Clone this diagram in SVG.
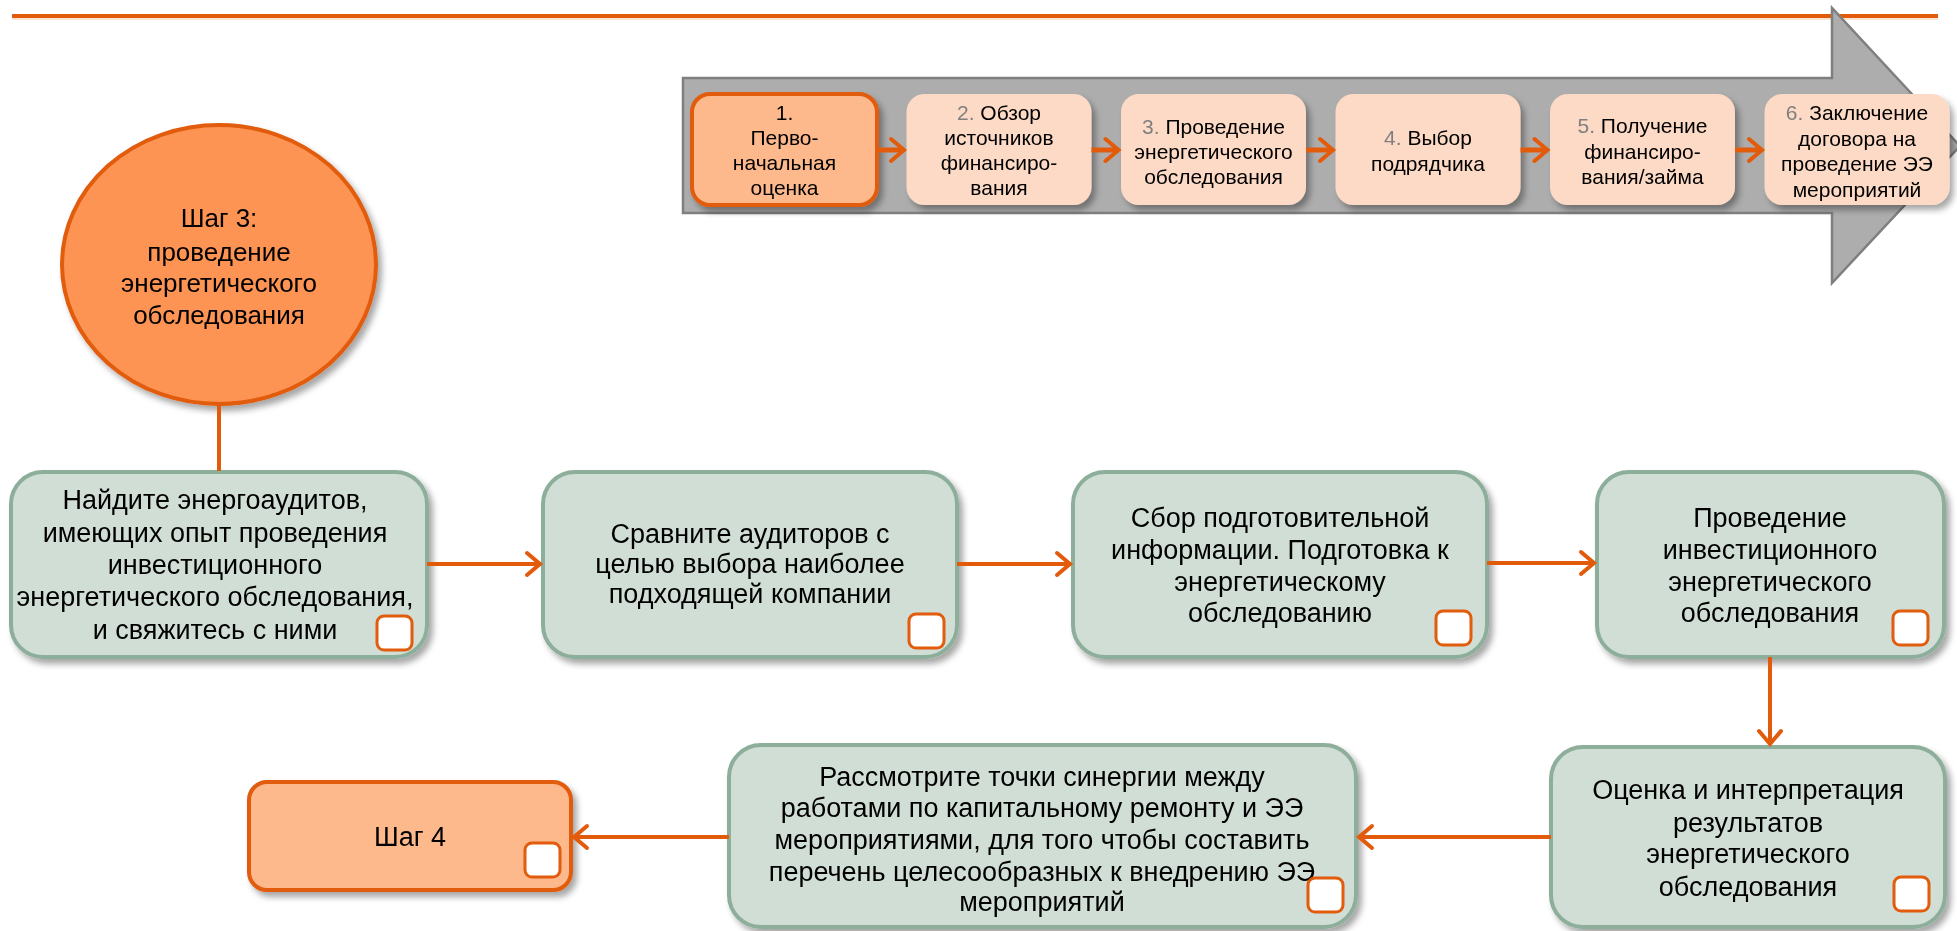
<svg xmlns="http://www.w3.org/2000/svg" width="1957" height="931" viewBox="0 0 1957 931">
  <defs>
    <style>
      text { font-family: "Liberation Sans", Arial, sans-serif; fill: #000; text-anchor: middle; }
      .t-top { font-size: 21px; }
      .t-box { font-size: 27px; }
      .t-circ { font-size: 26px; }
      .num { fill: #7F7F7F; }
      .step { fill: #FDDAC5; }
      .step-cur { fill: #FDB88C; stroke: #E25B0B; stroke-width: 4; }
      .task { fill: #D1DED6; stroke: #8CAE9A; stroke-width: 4; }
      .next { fill: #FDB88C; stroke: #E25B0B; stroke-width: 4; }
      .check { fill: #FFFFFF; stroke: #E25B0B; stroke-width: 3; }
      .conn { fill: none; stroke: #E25B0B; stroke-width: 4; }
      .conn-top { fill: none; stroke: #E25B0B; stroke-width: 5; }
    </style>
    <filter id="shadow" x="-10%" y="-10%" width="125%" height="130%">
      <feDropShadow dx="4" dy="5" stdDeviation="3" flood-color="#000" flood-opacity="0.35"/>
    </filter>
    <marker id="chev" markerUnits="userSpaceOnUse" viewBox="-3 -3 20 28" refX="13" refY="11" markerWidth="20" markerHeight="28" orient="auto">
      <path d="M0,0 L13,11 L0,22" fill="none" stroke="#E25B0B" stroke-width="4" stroke-linecap="round" stroke-linejoin="miter"/>
    </marker>
  </defs>

  <!-- header rule -->
  <line x1="12" y1="19" x2="1938" y2="19" stroke="#FCE3D3" stroke-width="2"/>
  <line x1="12" y1="16" x2="1938" y2="16" stroke="#E25B0B" stroke-width="4"/>

  <!-- process band -->
  <g id="process-band">
    <polygon points="683,78 1832,78 1832,8 1960,146 1832,283 1832,213 683,213" fill="#ADADAD" stroke="#7F7F7F" stroke-width="2.5"/>
  </g>

  <g id="step-1" filter="url(#shadow)">
    <rect class="step-cur" x="692" y="94" width="185" height="111" rx="18"/>
    <text class="t-top" x="784.5"><tspan x="784.5" y="120">1.</tspan><tspan x="784.5" y="145">Перво-</tspan><tspan x="784.5" y="170">начальная</tspan><tspan x="784.5" y="195">оценка</tspan></text>
  </g>
  <g id="step-2" filter="url(#shadow)">
    <rect class="step" x="906.5" y="94" width="185" height="111" rx="18"/>
    <text class="t-top"><tspan x="999" y="120"><tspan class="num">2.</tspan> Обзор</tspan><tspan x="999" y="145">источников</tspan><tspan x="999" y="170">финансиро-</tspan><tspan x="999" y="195">вания</tspan></text>
  </g>
  <g id="step-3" filter="url(#shadow)">
    <rect class="step" x="1121" y="94" width="185" height="111" rx="18"/>
    <text class="t-top"><tspan x="1213.5" y="134"><tspan class="num">3.</tspan> Проведение</tspan><tspan x="1213.5" y="159">энергетического</tspan><tspan x="1213.5" y="184">обследования</tspan></text>
  </g>
  <g id="step-4" filter="url(#shadow)">
    <rect class="step" x="1335.5" y="94" width="185" height="111" rx="18"/>
    <text class="t-top"><tspan x="1428" y="145"><tspan class="num">4.</tspan> Выбор</tspan><tspan x="1428" y="171">подрядчика</tspan></text>
  </g>
  <g id="step-5" filter="url(#shadow)">
    <rect class="step" x="1550" y="94" width="185" height="111" rx="18"/>
    <text class="t-top"><tspan x="1642.5" y="133"><tspan class="num">5.</tspan> Получение</tspan><tspan x="1642.5" y="159">финансиро-</tspan><tspan x="1642.5" y="184">вания/займа</tspan></text>
  </g>
  <g id="step-6" filter="url(#shadow)">
    <rect class="step" x="1764.5" y="94" width="185" height="111" rx="18"/>
    <text class="t-top"><tspan x="1857" y="120"><tspan class="num">6.</tspan> Заключение</tspan><tspan x="1857" y="146">договора на</tspan><tspan x="1857" y="171">проведение ЭЭ</tspan><tspan x="1857" y="197">мероприятий</tspan></text>
  </g>

  <!-- step 3 hub -->
  <g id="stage" filter="url(#shadow)">
    <ellipse cx="219" cy="264.5" rx="157" ry="139.5" fill="#FD9452" stroke="#E25B0B" stroke-width="4"/>
    <text class="t-circ"><tspan x="219" y="227">Шаг 3:</tspan><tspan x="219" y="261">проведение</tspan><tspan x="219" y="292">энергетического</tspan><tspan x="219" y="324">обследования</tspan></text>
  </g>

  <!-- tasks -->
  <g id="task-1" filter="url(#shadow)">
    <rect class="task" x="11" y="472" width="416" height="185" rx="32"/>
    <text class="t-box"><tspan x="215" y="509">Найдите энергоаудитов,</tspan><tspan x="215" y="542">имеющих опыт проведения</tspan><tspan x="215" y="574">инвестиционного</tspan><tspan x="215" y="606">энергетического обследования,</tspan><tspan x="215" y="639">и свяжитесь с ними</tspan></text>
    <rect class="check" x="377" y="616" width="35" height="34" rx="7"/>
  </g>
  <g id="task-2" filter="url(#shadow)">
    <rect class="task" x="543" y="472" width="414" height="185" rx="32"/>
    <text class="t-box"><tspan x="750" y="543">Сравните аудиторов с</tspan><tspan x="750" y="573">целью выбора наиболее</tspan><tspan x="750" y="603">подходящей компании</tspan></text>
    <rect class="check" x="909" y="614" width="35" height="34" rx="7"/>
  </g>
  <g id="task-3" filter="url(#shadow)">
    <rect class="task" x="1073" y="472" width="414" height="185" rx="32"/>
    <text class="t-box"><tspan x="1280" y="527">Сбор подготовительной</tspan><tspan x="1280" y="559">информации. Подготовка к</tspan><tspan x="1280" y="591">энергетическому</tspan><tspan x="1280" y="622">обследованию</tspan></text>
    <rect class="check" x="1436" y="611" width="35" height="34" rx="7"/>
  </g>
  <g id="task-4" filter="url(#shadow)">
    <rect class="task" x="1597" y="472" width="347" height="185" rx="32"/>
    <text class="t-box"><tspan x="1770" y="527">Проведение</tspan><tspan x="1770" y="559">инвестиционного</tspan><tspan x="1770" y="591">энергетического</tspan><tspan x="1770" y="622">обследования</tspan></text>
    <rect class="check" x="1893" y="611" width="35" height="34" rx="7"/>
  </g>
  <g id="task-5" filter="url(#shadow)">
    <rect class="task" x="1551" y="747" width="394" height="180" rx="32"/>
    <text class="t-box"><tspan x="1748" y="799">Оценка и интерпретация</tspan><tspan x="1748" y="832">результатов</tspan><tspan x="1748" y="863">энергетического</tspan><tspan x="1748" y="896">обследования</tspan></text>
    <rect class="check" x="1894" y="877" width="35" height="34" rx="7"/>
  </g>
  <g id="task-6" filter="url(#shadow)">
    <rect class="task" x="729" y="745" width="627" height="182" rx="32"/>
    <text class="t-box"><tspan x="1042" y="786">Рассмотрите точки синергии между</tspan><tspan x="1042" y="817">работами по капитальному ремонту и ЭЭ</tspan><tspan x="1042" y="849">мероприятиями, для того чтобы составить</tspan><tspan x="1042" y="881">перечень целесообразных к внедрению ЭЭ</tspan><tspan x="1042" y="911">мероприятий</tspan></text>
    <rect class="check" x="1308" y="878" width="35" height="34" rx="7"/>
  </g>
  <g id="step-4-next" filter="url(#shadow)">
    <rect class="next" x="249" y="782" width="322" height="108" rx="18"/>
    <text class="t-box" x="410" y="846">Шаг 4</text>
    <rect class="check" x="525" y="843" width="35" height="34" rx="7"/>
  </g>

  <!-- connectors -->
  <g id="connectors">
    <path class="conn-top" d="M877,150 L904,150" marker-end="url(#chev)"/>
    <path class="conn-top" d="M1091.5,150 L1118.5,150" marker-end="url(#chev)"/>
    <path class="conn-top" d="M1306,150 L1333,150" marker-end="url(#chev)"/>
    <path class="conn-top" d="M1520.5,150 L1547.5,150" marker-end="url(#chev)"/>
    <path class="conn-top" d="M1735,150 L1762,150" marker-end="url(#chev)"/>
    <path class="conn" d="M219,404 L219,471"/>
    <path class="conn" d="M427,564 L540,564" marker-end="url(#chev)"/>
    <path class="conn" d="M957,564 L1070,564" marker-end="url(#chev)"/>
    <path class="conn" d="M1487,563 L1594,563" marker-end="url(#chev)"/>
    <path class="conn" d="M1770,657 L1770,744" marker-end="url(#chev)"/>
    <path class="conn" d="M1551,837 L1359,837" marker-end="url(#chev)"/>
    <path class="conn" d="M729,837 L574,837" marker-end="url(#chev)"/>
  </g>
</svg>
